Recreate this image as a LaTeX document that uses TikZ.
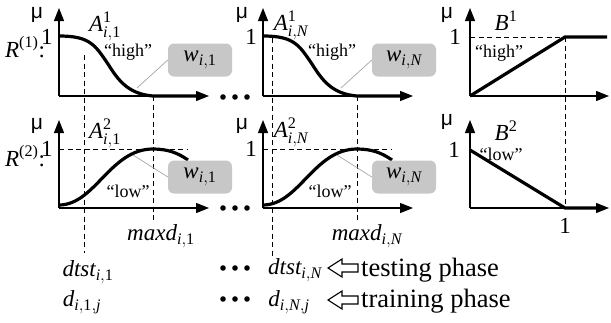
\documentclass[tikz,border=0pt]{standalone}
\usepackage{amsmath}
\usepackage{fontspec}
\setmainfont{Liberation Serif}
\newfontfamily\mufont{Liberation Sans}
\usetikzlibrary{arrows.meta}
\newcommand{\vi}[1]{\text{\itshape #1}}
\newcommand{\vr}[1]{\text{#1}}
\tikzset{
  axis/.style={line width=1.1pt,-{Triangle[length=13pt,width=10pt]}},
  memb/.style={line width=3.2pt},
  guide/.style={line width=0.9pt,dash pattern={on 5pt off 3.5pt}},
  wbox/.style={fill=black!22,rounded corners=6pt,minimum width=64pt,minimum height=33pt,font=\fontsize{23}{25}\selectfont},
  link/.style={draw=black!35,line width=0.7pt},
  lab/.style={inner sep=0pt,font=\fontsize{23}{25}\selectfont},
  qlab/.style={inner sep=0pt,font=\fontsize{18}{20}\selectfont},
  mulab/.style={inner sep=0pt,font=\mufont\fontsize{21}{23}\selectfont},
  phase/.style={inner sep=0pt,anchor=base west,font=\fontsize{26.5}{28}\selectfont},
  hollow/.style={line width=1.1pt,line join=miter}
}
\newcommand{\dotrow}[2]{\foreach \k in {0,1,2} \fill (#1+12*\k,#2) circle (2.8pt);}
\begin{document}
\begin{tikzpicture}[x=1pt,y=1pt,yscale=-1,xscale=1]
\useasboundingbox (0,0) rectangle (611,322);
\draw[guide] (84,55) -- (84,253);
\draw[guide] (153,96) -- (153,222);
\draw[guide] (272,38) -- (272,257);
\draw[guide] (357,96) -- (357,222);
\draw[guide] (59,149) -- (187,149);
\draw[guide] (263,149) -- (391,149);
\draw[guide] (470,37) -- (565,37);
\draw[guide] (565,37) -- (565,208);
\draw[axis] (59,96) -- (59,8);
\draw[axis] (59,96) -- (209,96);
\draw[axis] (59,208) -- (59,120);
\draw[axis] (59,208) -- (209,208);
\draw[axis] (263,96) -- (263,8);
\draw[axis] (263,96) -- (413,96);
\draw[axis] (263,208) -- (263,120);
\draw[axis] (263,208) -- (413,208);
\draw[axis] (470,96) -- (470,8);
\draw[axis] (470,96) -- (609,96);
\draw[axis] (470,208) -- (470,120);
\draw[axis] (470,208) -- (609,208);
\draw[memb] (59,36) .. controls (90,36) and (95,45) .. (108,64) .. controls (118,80) and (128,94) .. (153,96) -- (196,96);
\draw[memb] (59,205) .. controls (95,205) and (110,149) .. (153,149) .. controls (168,149) and (178,153) .. (188,160);
\draw[memb] (263,36) .. controls (294,36) and (299,45) .. (312,64) .. controls (322,80) and (332,94) .. (357,96) -- (400,96);
\draw[memb] (263,205) .. controls (299,205) and (314,149) .. (357,149) .. controls (372,149) and (382,153) .. (392,160);
\draw[memb] (470,96) -- (565,37) -- (607,37);
\draw[memb] (470,150) -- (565,208) -- (596,208);
\coordinate (c11) at (137,88);
\coordinate (c21) at (133,155);
\coordinate (c1N) at (341,88);
\coordinate (c2N) at (337,155);
\draw (200,60) node[wbox] (w11) {$\vi{w}_{\vi{i},\vr{1}}$};
\draw (200,177) node[wbox] (w21) {$\vi{w}_{\vi{i},\vr{1}}$};
\draw (404,60) node[wbox] (w1N) {$\vi{w}_{\vi{i},\vi{N}}$};
\draw (404,177) node[wbox] (w2N) {$\vi{w}_{\vi{i},\vi{N}}$};
\draw[link] (w11.west) -- (c11);
\draw[link] (w21.west) -- (c21);
\draw[link] (w1N.west) -- (c1N);
\draw[link] (w2N.west) -- (c2N);
\draw (37,15) node[mulab] (mu11) {μ};
\draw (37,126) node[mulab] (mu21) {μ};
\draw (242,15) node[mulab] (mu1N) {μ};
\draw (242,126) node[mulab] (mu2N) {μ};
\draw (447,15) node[mulab] (muB1) {μ};
\draw (447,122) node[mulab] (muB2) {μ};
\draw (47,37) node[lab] (one11) {1};
\draw (47,149) node[lab] (one21) {1};
\draw (251,37) node[lab] (one1N) {1};
\draw (251,149) node[lab] (one2N) {1};
\draw (455,37) node[lab] (oneB1) {1};
\draw (454,150) node[lab] (oneB2) {1};
\draw (565,226) node[lab] (oneBx) {1};
\draw (5,57) node[lab,anchor=base west] (r1) {$\vi{R}^{\vr{(1)}}$:};
\draw (5,166) node[lab,anchor=base west] (r2) {$\vi{R}^{\vr{(2)}}$:};
\draw (105,26) node[lab] (a11) {$\vi{A}^{\vr{1}}_{\vi{i},\vr{1}}$};
\draw (105,133) node[lab] (a21) {$\vi{A}^{\vr{2}}_{\vi{i},\vr{1}}$};
\draw (291,25) node[lab] (a1N) {$\vi{A}^{\vr{1}}_{\vi{i},\vi{N}}$};
\draw (291,132) node[lab] (a2N) {$\vi{A}^{\vr{2}}_{\vi{i},\vi{N}}$};
\draw (506,21) node[lab] (b1) {$\vi{B}^{\vr{1}}$};
\draw (506,131) node[lab] (b2) {$\vi{B}^{\vr{2}}$};
\draw (128,52) node[qlab] (h11) {“high”};
\draw (128,191) node[qlab] (l21) {“low”};
\draw (332,52) node[qlab] (h1N) {“high”};
\draw (330,191) node[qlab] (l2N) {“low”};
\draw (499,53) node[qlab] (hB1) {“high”};
\draw (501,154) node[qlab] (lB2) {“low”};
\draw (161,236) node[lab] (m1) {$\vi{maxd}_{\vi{i},\vr{1}}$};
\draw (367,236) node[lab] (mN) {$\vi{maxd}_{\vi{i},\vi{N}}$};
\draw (88,272) node[lab] (t1) {$\vi{dtst}_{\vi{i},\vr{1}}$};
\draw (82,302) node[lab] (d1) {$\vi{d}_{\vi{i},\vr{1},\vi{j}}$};
\draw (295,270) node[lab] (tN) {$\vi{dtst}_{\vi{i},\vi{N}}$};
\draw (289,302) node[lab] (dN) {$\vi{d}_{\vi{i},\vi{N},\vi{j}}$};
\dotrow{223}{97}
\dotrow{223}{208}
\dotrow{223}{268}
\dotrow{223}{299}
\coordinate (ta) at (328,268);
\coordinate (da) at (328,300);
\draw[hollow] (ta) -- ++(14,-9) -- ++(0,5) -- ++(16,0) -- ++(0,8) -- ++(-16,0) -- ++(0,5) -- cycle;
\draw[hollow] (da) -- ++(14,-9) -- ++(0,5) -- ++(16,0) -- ++(0,8) -- ++(-16,0) -- ++(0,5) -- cycle;
\draw (361,276) node[phase] (tp) {testing phase};
\draw (361,307) node[phase] (dp) {training phase};
\end{tikzpicture}
\end{document}
